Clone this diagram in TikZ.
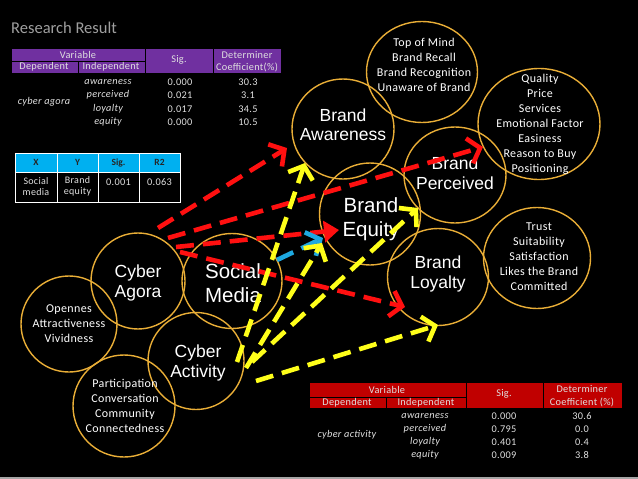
\documentclass[tikz,border=0pt]{standalone}
\usepackage{fontspec}
\setmainfont{Carlito}
\newfontfamily\arialf{Liberation Sans}
\newfontfamily\calsp[LetterSpace=3]{Carlito}
\usetikzlibrary{arrows.meta,shapes.geometric}
\definecolor{ring}{HTML}{E9AE37}
\definecolor{pur}{HTML}{7030A0}
\definecolor{cya}{HTML}{00B0F0}
\definecolor{dred}{HTML}{C00000}
\definecolor{ared}{HTML}{FF1010}
\definecolor{ayel}{HTML}{FFFF1A}
\definecolor{ablu}{HTML}{1EA8E0}
\definecolor{ttxt}{HTML}{E0E0E0}
\begin{document}
\begin{tikzpicture}[x=1pt,y=-1pt,
  ring/.style={ellipse, draw=ring, line width=1.4pt, inner sep=0pt},
  big/.style={text=white, align=center, font=\arialf\fontsize{17.5}{19.5}\selectfont},
  bigger/.style={text=white, align=center, font=\arialf\fontsize{20.5}{24.5}\selectfont},
  small/.style={text=white, align=center, font=\calsp\fontsize{12}{15}\selectfont},
  tt/.style={text=ttxt, inner sep=0pt, font=\calsp\fontsize{10.3}{12}\selectfont},
  tti/.style={tt, font=\calsp\fontsize{10.3}{12}\selectfont\itshape},
  cell/.style={draw=black, line width=0.8pt},
  arr/.style={line width=4.6pt, dash pattern=on 18pt off 9pt,
    -{Straight Barb[length=11pt,width=26pt]}},
  arrf/.style={line width=4.6pt, dash pattern=on 18pt off 9pt,
    -{Triangle[length=15pt,width=21pt]}}
]
\fill[black] (0,0) rectangle (638,479);
\useasboundingbox (0,0) rectangle (638,479);
\fill[gray!70] (0,477) rectangle (638,479);

% title
\node[text=gray!75, font=\fontsize{16.5}{18}\selectfont, anchor=west, inner sep=0pt] (title) at (11,28) {Research Result};

% ---------- table 1 (purple)
\fill[pur] (11,48) rectangle (281,73);
\draw[cell] (11,48) rectangle (281,73);
\draw[cell] (11,61) -- (145,61);
\draw[cell] (78,61) -- (78,73);
\draw[cell] (145,48) -- (145,73);
\draw[cell] (213,48) -- (213,73);
\node[tt] (t1v) at (78,54.5) {Variable};
\node[tt] (t1d) at (44,67) {Dependent};
\node[tt] (t1i) at (111,67) {Independent};
\node[tt] (t1s) at (179,60) {Sig.};
\node[tt] (t1c1) at (247,55) {Determiner};
\node[tt] (t1c2) at (247,67.5) {Coefficient(\%)};
\node[tti] (t1dep) at (44,102) {cyber agora};
\node[tti] (t1a) at (108,82) {awareness};
\node[tti] (t1b) at (108,95) {perceived};
\node[tti] (t1c) at (108,109) {loyalty};
\node[tti] (t1e) at (108,122) {equity};
\node[tt] (t1sa) at (180,82) {0.000};
\node[tt] (t1sb) at (180,95) {0.021};
\node[tt] (t1sc) at (180,109) {0.017};
\node[tt] (t1se) at (180,122) {0.000};
\node[tt] (t1ca) at (248,82) {30.3};
\node[tt] (t1cb) at (248,95) {3.1};
\node[tt] (t1cc) at (248,109) {34.5};
\node[tt] (t1ce) at (248,122) {10.5};

% ---------- table 2 (blue)
\fill[cya] (15,153) rectangle (180,172);
\draw[white, line width=0.9pt] (15,153) rectangle (180,202);
\draw[white, line width=0.9pt] (15,172) -- (180,172);
\foreach \xx in {57,98,139} \draw[white, line width=0.9pt] (\xx,153) -- (\xx,202);
\node[tt, text=black!85, font=\fontsize{9.5}{11}\selectfont\bfseries] (t2x) at (36,162.5) {X};
\node[tt, text=black!85, font=\fontsize{9.5}{11}\selectfont\bfseries] (t2y) at (77.5,162.5) {Y};
\node[tt, text=black!85, font=\fontsize{9.5}{11}\selectfont\bfseries] (t2s) at (118.5,162.5) {Sig.};
\node[tt, text=black!85, font=\fontsize{9.5}{11}\selectfont\bfseries] (t2r) at (159.5,162.5) {R2};
\node[tt, align=center, font=\calsp\fontsize{10}{10.5}\selectfont] (t2a) at (36,186.5) {Social\\media};
\node[tt, align=center, font=\calsp\fontsize{10}{10.5}\selectfont] (t2b) at (77.5,186.5) {Brand\\equity};
\node[tt] (t2c) at (118.5,182) {0.001};
\node[tt] (t2d) at (159.5,182) {0.063};

% ---------- table 3 (red)
\fill[dred] (309,382) rectangle (622,408);
\draw[cell] (309,382) rectangle (622,408);
\draw[cell] (309,397) -- (466,397);
\draw[cell] (386,397) -- (386,408);
\draw[cell] (466,382) -- (466,408);
\draw[cell] (543,382) -- (543,408);
\node[tt] (t3v) at (387,389.5) {Variable};
\node[tt] (t3d) at (347,402.5) {Dependent};
\node[tt] (t3i) at (426,402.5) {Independent};
\node[tt] (t3s) at (504,394) {Sig.};
\node[tt] (t3c1) at (582,389) {Determiner};
\node[tt] (t3c2) at (582,402) {Coefficient (\%)};
\node[tti] (t3dep) at (347,435) {cyber activity};
\node[tti] (t3a) at (425,416) {awareness};
\node[tti] (t3b) at (425,429) {perceived};
\node[tti] (t3c) at (425,442) {loyalty};
\node[tti] (t3e) at (425,455) {equity};
\node[tt] (t3sa) at (504,416) {0.000};
\node[tt] (t3sb) at (504,429) {0.795};
\node[tt] (t3sc) at (504,442) {0.401};
\node[tt] (t3se) at (504,455) {0.009};
\node[tt] (t3ca) at (582,416) {30.6};
\node[tt] (t3cb) at (582,429) {0.0};
\node[tt] (t3cc) at (582,442) {0.4};
\node[tt] (t3ce) at (582,455) {3.8};

% ---------- circles
\node[ring, minimum width=102pt, minimum height=100pt] (aw) at (343,129) {};
\node[ring, minimum width=111pt, minimum height=101pt] (tom) at (422,72) {};
\node[ring, minimum width=122pt, minimum height=111pt] (qual) at (539,124) {};
\node[ring, minimum width=102pt, minimum height=96pt] (perc) at (455,175) {};
\node[ring, minimum width=101pt, minimum height=102pt] (eq) at (370,214) {};
\node[ring, minimum width=101pt, minimum height=97pt] (loy) at (438,277) {};
\node[ring, minimum width=107pt, minimum height=101pt] (trust) at (537,258) {};
\node[ring, minimum width=94pt, minimum height=96pt] (agora) at (138,281) {};
\node[ring, minimum width=100pt, minimum height=95pt] (social) at (232,281) {};
\node[ring, minimum width=96pt, minimum height=96pt] (open) at (69,324) {};
\node[ring, minimum width=96pt, minimum height=97pt] (act) at (196,361) {};
\node[ring, minimum width=102pt, minimum height=102pt] (part) at (124,406) {};

% ---------- circle texts
\node[big] (awt) at (343,124.5) {Brand\\Awareness};
\node[small] (tomt) at (424,65) {Top of Mind\\Brand Recall\\Brand Recognition\\Unaware of Brand};
\node[small] (qualt) at (540,124.5) {Quality\\Price\\Services\\Emotional Factor\\Easiness\\Reason to Buy\\Positioning};
\node[big] (perct) at (455,173) {Brand\\Perceived};
\node[bigger] (eqt) at (371,219) {Brand\\Equity};
\node[big] (loyt) at (438,274) {Brand\\Loyalty};
\node[small] (trustt) at (539,257) {Trust\\Suitability\\Satisfaction\\Likes the Brand\\Committed};
\node[big] (agorat) at (138,283) {Cyber\\Agora};
\node[bigger] (socialt) at (233,283) {Social\\Media};
\node[small] (opent) at (69,324) {Opennes\\Attractiveness\\Vividness};
\node[big] (actt) at (198,363) {Cyber\\Activity};
\node[small] (partt) at (125,405.5) {Participation\\Conversation\\Community\\Connectedness};

% ---------- arrow end points
\coordinate (r1s) at (158,228); \coordinate (r1e) at (287,148);
\coordinate (r2s) at (168,238); \coordinate (r2e) at (483,147);
\coordinate (r3s) at (176,247); \coordinate (r3e) at (339,230);
\coordinate (r4s) at (180,252); \coordinate (r4e) at (405,307);
\coordinate (y1s) at (237,362); \coordinate (y1e) at (305,163);
\coordinate (y2s) at (246,368); \coordinate (y2e) at (322,243);
\coordinate (y3s) at (252,362); \coordinate (y3e) at (418,208);
\coordinate (y4s) at (256,381); \coordinate (y4e) at (438,325);
\coordinate (bs) at (277,260); \coordinate (be) at (323,238);

% ---------- arrows
\draw[arr, ared] (r1s) -- (r1e);
\draw[arr, ared] (r2s) -- (r2e);
\draw[arrf, ared] (r3s) -- (r3e);
\draw[arr, ared] (r4s) -- (r4e);
\draw[arr, ablu] (bs) -- (be);
\draw[arr, ayel] (y1s) -- (y1e);
\draw[arr, ayel] (y2s) -- (y2e);
\draw[arr, ayel] (y3s) -- (y3e);
\draw[arr, ayel] (y4s) -- (y4e);
\end{tikzpicture}
\end{document}
